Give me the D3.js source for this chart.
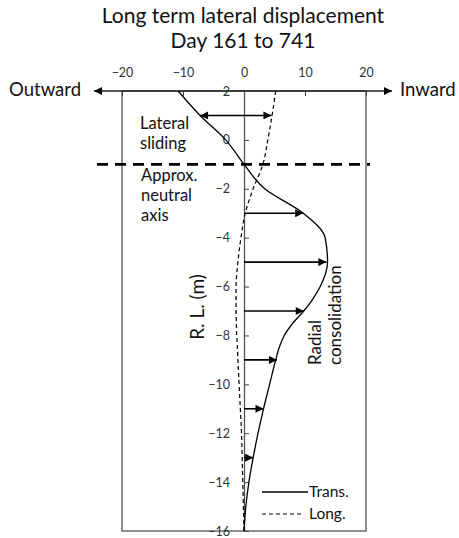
<!DOCTYPE html>
<html>
<head>
<meta charset="utf-8">
<script src="https://cdn.jsdelivr.net/npm/d3@7"></script>
<style>
  html, body { margin: 0; padding: 0; background: #fff; }
  svg { display: block; font-family: Lato, "Open Sans", sans-serif; }
</style>
</head>
<body>
<svg id="chart" width="459" height="538"></svg>
<script>
// Reduced level (m) of each reading, top to bottom
const levels = [2, 1, 0, -1, -2, -3, -4, -5, -6, -6.5, -7, -7.5, -8, -8.4, -9, -10, -11, -12, -13, -14, -15, -16];
// Transverse lateral displacement (mm) at each level
const transValues = [-10.8, -7.2, -3.0, 0, 3.4, 9.7, 13.3, 13.7, 12.5, 11.3, 9.8, 8.0, 6.6, 5.9, 5.2, 4.2, 3.2, 2.3, 1.5, 0.8, 0.3, 0];
// Longitudinal lateral displacement (mm) at each level
const longValues = [5.2, 4.6, 3.9, 3.1, 1.5, 0.2, -0.5, -1.0, -1.3, -1.3, -1.3, -1.25, -1.2, -1.1, -1.0, -0.8, -0.6, -0.4, -0.3, -0.2, -0.1, 0];

// Annotation arrows: level, start and end displacement
const arrowLevels = [1, -3, -5, -7, -9, -11, -13];
const arrowFrom = [-7.2, 0, 0, 0, 0, 0, 0];
const arrowTo = [4.5, 9.7, 13.5, 9.8, 5.4, 3.2, 1.5];

const xTicks = [-20, -10, 0, 10, 20];
const yTicks = [2, 0, -2, -4, -6, -8, -10, -12, -14, -16];
const neutralAxisLevel = -1;

const svg = d3.select("#chart");
const x = d3.scaleLinear().domain([-20, 20]).range([122, 366]);
const y = d3.scaleLinear().domain([-16, 2]).range([531, 91]);

const defs = svg.append("defs");
defs.append("marker")
  .attr("id", "head").attr("viewBox", "0 0 10 10")
  .attr("refX", 10).attr("refY", 5)
  .attr("markerUnits", "userSpaceOnUse")
  .attr("markerWidth", 9).attr("markerHeight", 8)
  .attr("orient", "auto-start-reverse")
  .append("path").attr("d", "M0,0 L10,5 L0,10 Z").attr("fill", "#000");

// Title
svg.append("text").attr("x", 243).attr("y", 23).attr("text-anchor", "middle")
  .attr("font-size", 21).attr("fill", "#111").text("Long term lateral displacement");
svg.append("text").attr("x", 243).attr("y", 48).attr("text-anchor", "middle")
  .attr("font-size", 21).attr("fill", "#111").text("Day 161 to 741");

// Plot frame
svg.append("rect")
  .attr("x", x(-20)).attr("y", y(2))
  .attr("width", x(20) - x(-20)).attr("height", y(-16) - y(2))
  .attr("fill", "none").attr("stroke", "#555").attr("stroke-width", 1.3);

// Top (displacement) axis
const topAxis = svg.append("g").attr("transform", `translate(0,${y(2)})`)
  .call(d3.axisTop(x).tickValues(xTicks).tickSizeInner(-5).tickSizeOuter(0).tickPadding(14));
topAxis.select(".domain").remove();
topAxis.selectAll("line").attr("stroke", "#444");
topAxis.selectAll("text").attr("font-size", 12.5).attr("fill", "#333").attr("font-family", "Lato, sans-serif");

// Long direction arrow along the top axis
svg.append("line")
  .attr("x1", 94).attr("x2", 392).attr("y1", y(2)).attr("y2", y(2))
  .attr("stroke", "#222").attr("stroke-width", 1.3)
  .attr("marker-start", "url(#head)").attr("marker-end", "url(#head)");
svg.append("text").attr("x", 81).attr("y", 96).attr("text-anchor", "end")
  .attr("font-size", 18.5).attr("fill", "#111").text("Outward");
svg.append("text").attr("x", 400).attr("y", 96)
  .attr("font-size", 18.5).attr("fill", "#111").text("Inward");

// Vertical (level) axis at zero displacement
const leftAxis = svg.append("g").attr("transform", `translate(${x(0)},0)`)
  .call(d3.axisLeft(y).tickValues(yTicks).tickSizeInner(-5).tickSizeOuter(0).tickPadding(14));
leftAxis.select(".domain").attr("stroke", "#555").attr("stroke-width", 1.3);
leftAxis.selectAll("line").attr("stroke", "#444");
leftAxis.selectAll("text").attr("font-size", 12.5).attr("fill", "#333").attr("font-family", "Lato, sans-serif");

svg.append("text")
  .attr("transform", `translate(204,307) rotate(-90)`)
  .attr("text-anchor", "middle").attr("font-size", 19).attr("fill", "#111")
  .text("R. L. (m)");

// Approximate neutral axis
svg.append("line")
  .attr("x1", 97).attr("x2", 370)
  .attr("y1", y(neutralAxisLevel)).attr("y2", y(neutralAxisLevel))
  .attr("stroke", "#000").attr("stroke-width", 2.6).attr("stroke-dasharray", "11,7");

// Displacement profiles
const transData = levels.map((d, i) => ({ level: d, v: transValues[i] }));
const longData = levels.map((d, i) => ({ level: d, v: longValues[i] }));
const line = d3.line().x(d => x(d.v)).y(d => y(d.level)).curve(d3.curveMonotoneY);

svg.append("path").datum(longData).attr("d", line)
  .attr("fill", "none").attr("stroke", "#000").attr("stroke-width", 1.2)
  .attr("stroke-dasharray", "4,3");
svg.append("path").datum(transData).attr("d", line)
  .attr("fill", "none").attr("stroke", "#000").attr("stroke-width", 1.3);

// Annotation arrows
arrowLevels.forEach((lv, i) => {
  const a = svg.append("line")
    .attr("x1", x(arrowFrom[i])).attr("x2", x(arrowTo[i]))
    .attr("y1", y(lv)).attr("y2", y(lv))
    .attr("stroke", "#000").attr("stroke-width", 1.6)
    .attr("marker-end", "url(#head)");
  if (arrowFrom[i] !== 0) a.attr("marker-start", "url(#head)");
});

// Annotation labels
const note = (lines, xPos, y0, dy) => lines.forEach((t, i) =>
  svg.append("text").attr("x", xPos).attr("y", y0 + i * dy)
    .attr("font-size", 16.5).attr("fill", "#111").text(t));
note(["Lateral", "sliding"], 140, 129, 20);
note(["Approx.", "neutral", "axis"], 141, 181, 20);

svg.append("text").attr("transform", "translate(321,365) rotate(-90)")
  .attr("font-size", 17).attr("fill", "#111").text("Radial");
svg.append("text").attr("transform", "translate(341,365) rotate(-90)")
  .attr("font-size", 17).attr("fill", "#111").text("consolidation");

// Legend
const legend = svg.append("g");
legend.append("line").attr("x1", 262).attr("x2", 308).attr("y1", 492).attr("y2", 492)
  .attr("stroke", "#000").attr("stroke-width", 1.3);
legend.append("text").attr("x", 309).attr("y", 497).attr("font-size", 15.5).attr("fill", "#111").text("Trans.");
legend.append("line").attr("x1", 262).attr("x2", 303).attr("y1", 514).attr("y2", 514)
  .attr("stroke", "#000").attr("stroke-width", 1.2).attr("stroke-dasharray", "4,3");
legend.append("text").attr("x", 309).attr("y", 519).attr("font-size", 15.5).attr("fill", "#111").text("Long.");
</script>
</body>
</html>
